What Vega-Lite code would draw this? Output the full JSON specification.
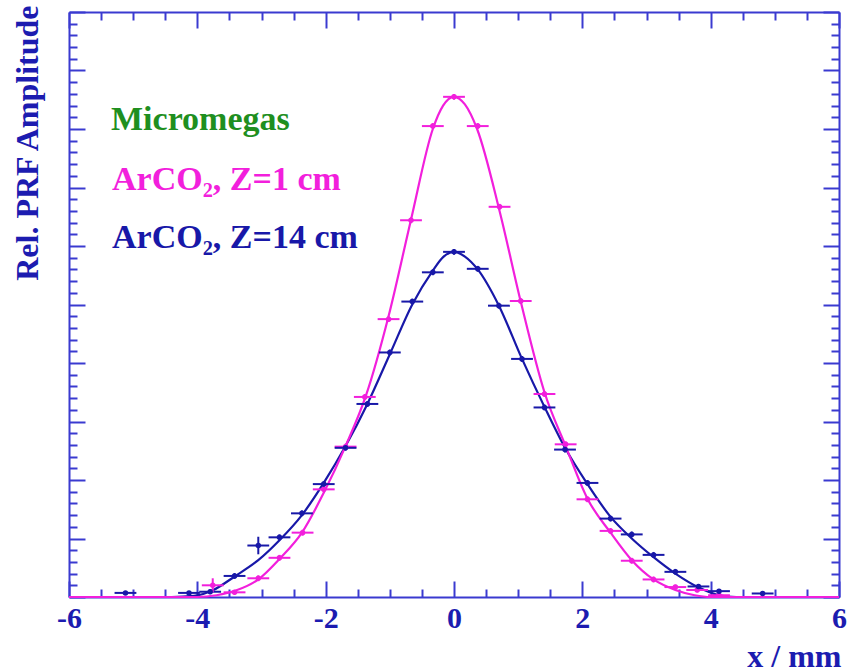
{
  "$schema": "https://vega.github.io/schema/vega-lite/v6.json",
  "autosize": {"type": "none"},
  "padding": {"left": 69, "top": 12, "right": 12, "bottom": 75},
  "width": 770,
  "height": 585,
  "background": "white",
  "config": {
    "view": {"stroke": null},
    "font": "Liberation Serif",
    "axis": {
      "domainColor": "#3a3ad0",
      "domainWidth": 2,
      "tickColor": "#3a3ad0",
      "tickWidth": 2,
      "grid": false,
      "labelFont": "Liberation Serif",
      "labelFontWeight": "bold",
      "labelFontSize": 30,
      "labelColor": "#1c1cb0",
      "titleFont": "Liberation Serif",
      "titleFontWeight": "bold",
      "titleColor": "#1c1cb0"
    }
  },
  "datasets": {
    "curveZ14": [
      {"series": "ArCO₂, Z=14 cm", "x": -6.0, "y": 0.0},
      {"series": "ArCO₂, Z=14 cm", "x": -4.4, "y": 0.0},
      {"series": "ArCO₂, Z=14 cm", "x": -4.05, "y": 0.002},
      {"series": "ArCO₂, Z=14 cm", "x": -3.75, "y": 0.012},
      {"series": "ArCO₂, Z=14 cm", "x": -3.42, "y": 0.035},
      {"series": "ArCO₂, Z=14 cm", "x": -3.05, "y": 0.063},
      {"series": "ArCO₂, Z=14 cm", "x": -2.72, "y": 0.097},
      {"series": "ArCO₂, Z=14 cm", "x": -2.37, "y": 0.14},
      {"series": "ArCO₂, Z=14 cm", "x": -2.03, "y": 0.195},
      {"series": "ArCO₂, Z=14 cm", "x": -1.69, "y": 0.258},
      {"series": "ArCO₂, Z=14 cm", "x": -1.35, "y": 0.33},
      {"series": "ArCO₂, Z=14 cm", "x": -1.0, "y": 0.415},
      {"series": "ArCO₂, Z=14 cm", "x": -0.65, "y": 0.5},
      {"series": "ArCO₂, Z=14 cm", "x": -0.33, "y": 0.558},
      {"series": "ArCO₂, Z=14 cm", "x": -0.17, "y": 0.581},
      {"series": "ArCO₂, Z=14 cm", "x": 0.0, "y": 0.59},
      {"series": "ArCO₂, Z=14 cm", "x": 0.17, "y": 0.582},
      {"series": "ArCO₂, Z=14 cm", "x": 0.37, "y": 0.56},
      {"series": "ArCO₂, Z=14 cm", "x": 0.7, "y": 0.498},
      {"series": "ArCO₂, Z=14 cm", "x": 1.06, "y": 0.407},
      {"series": "ArCO₂, Z=14 cm", "x": 1.41, "y": 0.325},
      {"series": "ArCO₂, Z=14 cm", "x": 1.73, "y": 0.255},
      {"series": "ArCO₂, Z=14 cm", "x": 2.08, "y": 0.193},
      {"series": "ArCO₂, Z=14 cm", "x": 2.44, "y": 0.137},
      {"series": "ArCO₂, Z=14 cm", "x": 2.77, "y": 0.1},
      {"series": "ArCO₂, Z=14 cm", "x": 3.11, "y": 0.068},
      {"series": "ArCO₂, Z=14 cm", "x": 3.45, "y": 0.04},
      {"series": "ArCO₂, Z=14 cm", "x": 3.8, "y": 0.017},
      {"series": "ArCO₂, Z=14 cm", "x": 4.13, "y": 0.003},
      {"series": "ArCO₂, Z=14 cm", "x": 4.4, "y": 0.0},
      {"series": "ArCO₂, Z=14 cm", "x": 6.0, "y": 0.0}
    ],
    "curveZ1": [
      {"series": "ArCO₂, Z=1 cm", "x": -6.0, "y": 0.0},
      {"series": "ArCO₂, Z=1 cm", "x": -4.0, "y": 0.0},
      {"series": "ArCO₂, Z=1 cm", "x": -3.7, "y": 0.003},
      {"series": "ArCO₂, Z=1 cm", "x": -3.4, "y": 0.011},
      {"series": "ArCO₂, Z=1 cm", "x": -3.05, "y": 0.03},
      {"series": "ArCO₂, Z=1 cm", "x": -2.72, "y": 0.065},
      {"series": "ArCO₂, Z=1 cm", "x": -2.37, "y": 0.11},
      {"series": "ArCO₂, Z=1 cm", "x": -2.03, "y": 0.178},
      {"series": "ArCO₂, Z=1 cm", "x": -1.69, "y": 0.258},
      {"series": "ArCO₂, Z=1 cm", "x": -1.37, "y": 0.345},
      {"series": "ArCO₂, Z=1 cm", "x": -1.02, "y": 0.48},
      {"series": "ArCO₂, Z=1 cm", "x": -0.67, "y": 0.645},
      {"series": "ArCO₂, Z=1 cm", "x": -0.33, "y": 0.8},
      {"series": "ArCO₂, Z=1 cm", "x": -0.17, "y": 0.84},
      {"series": "ArCO₂, Z=1 cm", "x": 0.0, "y": 0.855},
      {"series": "ArCO₂, Z=1 cm", "x": 0.17, "y": 0.842},
      {"series": "ArCO₂, Z=1 cm", "x": 0.36, "y": 0.8},
      {"series": "ArCO₂, Z=1 cm", "x": 0.71, "y": 0.66},
      {"series": "ArCO₂, Z=1 cm", "x": 1.04, "y": 0.505},
      {"series": "ArCO₂, Z=1 cm", "x": 1.41, "y": 0.35},
      {"series": "ArCO₂, Z=1 cm", "x": 1.74, "y": 0.258},
      {"series": "ArCO₂, Z=1 cm", "x": 2.08, "y": 0.168},
      {"series": "ArCO₂, Z=1 cm", "x": 2.44, "y": 0.11},
      {"series": "ArCO₂, Z=1 cm", "x": 2.77, "y": 0.063},
      {"series": "ArCO₂, Z=1 cm", "x": 3.11, "y": 0.03},
      {"series": "ArCO₂, Z=1 cm", "x": 3.45, "y": 0.012},
      {"series": "ArCO₂, Z=1 cm", "x": 3.75, "y": 0.003},
      {"series": "ArCO₂, Z=1 cm", "x": 4.0, "y": 0.0},
      {"series": "ArCO₂, Z=1 cm", "x": 6.0, "y": 0.0}
    ],
    "points": [
      {"series": "ArCO₂, Z=1 cm", "x": -3.76, "y": 0.02, "ex": 0.17, "ey": 0.012},
      {"series": "ArCO₂, Z=1 cm", "x": -3.42, "y": 0.008, "ex": 0.17, "ey": 0.004},
      {"series": "ArCO₂, Z=1 cm", "x": -3.05, "y": 0.032, "ex": 0.17, "ey": 0.005},
      {"series": "ArCO₂, Z=1 cm", "x": -2.72, "y": 0.067, "ex": 0.17, "ey": 0.005},
      {"series": "ArCO₂, Z=1 cm", "x": -2.36, "y": 0.11, "ex": 0.17, "ey": 0.005},
      {"series": "ArCO₂, Z=1 cm", "x": -2.03, "y": 0.184, "ex": 0.17, "ey": 0.005},
      {"series": "ArCO₂, Z=1 cm", "x": -1.69, "y": 0.257, "ex": 0.17, "ey": 0.005},
      {"series": "ArCO₂, Z=1 cm", "x": -1.39, "y": 0.342, "ex": 0.17, "ey": 0.005},
      {"series": "ArCO₂, Z=1 cm", "x": -1.02, "y": 0.475, "ex": 0.17, "ey": 0.005},
      {"series": "ArCO₂, Z=1 cm", "x": -0.67, "y": 0.644, "ex": 0.17, "ey": 0.005},
      {"series": "ArCO₂, Z=1 cm", "x": -0.33, "y": 0.805, "ex": 0.17, "ey": 0.005},
      {"series": "ArCO₂, Z=1 cm", "x": 0.0, "y": 0.855, "ex": 0.17, "ey": 0.005},
      {"series": "ArCO₂, Z=1 cm", "x": 0.37, "y": 0.805, "ex": 0.17, "ey": 0.005},
      {"series": "ArCO₂, Z=1 cm", "x": 0.71, "y": 0.667, "ex": 0.17, "ey": 0.005},
      {"series": "ArCO₂, Z=1 cm", "x": 1.04, "y": 0.506, "ex": 0.17, "ey": 0.005},
      {"series": "ArCO₂, Z=1 cm", "x": 1.41, "y": 0.347, "ex": 0.17, "ey": 0.005},
      {"series": "ArCO₂, Z=1 cm", "x": 1.74, "y": 0.261, "ex": 0.17, "ey": 0.005},
      {"series": "ArCO₂, Z=1 cm", "x": 2.08, "y": 0.167, "ex": 0.17, "ey": 0.005},
      {"series": "ArCO₂, Z=1 cm", "x": 2.44, "y": 0.113, "ex": 0.17, "ey": 0.005},
      {"series": "ArCO₂, Z=1 cm", "x": 2.77, "y": 0.062, "ex": 0.17, "ey": 0.005},
      {"series": "ArCO₂, Z=1 cm", "x": 3.11, "y": 0.03, "ex": 0.17, "ey": 0.005},
      {"series": "ArCO₂, Z=1 cm", "x": 3.45, "y": 0.017, "ex": 0.17, "ey": 0.004},
      {"series": "ArCO₂, Z=1 cm", "x": 3.79, "y": 0.012, "ex": 0.17, "ey": 0.004},
      {"series": "ArCO₂, Z=1 cm", "x": 4.13, "y": 0.003, "ex": 0.17, "ey": 0.003},
      {"series": "ArCO₂, Z=14 cm", "x": -5.12, "y": 0.007, "ex": 0.17, "ey": 0.003},
      {"series": "ArCO₂, Z=14 cm", "x": -4.13, "y": 0.007, "ex": 0.17, "ey": 0.003},
      {"series": "ArCO₂, Z=14 cm", "x": -3.8, "y": 0.009, "ex": 0.17, "ey": 0.004},
      {"series": "ArCO₂, Z=14 cm", "x": -3.42, "y": 0.036, "ex": 0.17, "ey": 0.005},
      {"series": "ArCO₂, Z=14 cm", "x": -3.05, "y": 0.088, "ex": 0.17, "ey": 0.015},
      {"series": "ArCO₂, Z=14 cm", "x": -2.72, "y": 0.102, "ex": 0.17, "ey": 0.005},
      {"series": "ArCO₂, Z=14 cm", "x": -2.37, "y": 0.143, "ex": 0.17, "ey": 0.005},
      {"series": "ArCO₂, Z=14 cm", "x": -2.03, "y": 0.193, "ex": 0.17, "ey": 0.005},
      {"series": "ArCO₂, Z=14 cm", "x": -1.69, "y": 0.255, "ex": 0.17, "ey": 0.005},
      {"series": "ArCO₂, Z=14 cm", "x": -1.35, "y": 0.33, "ex": 0.17, "ey": 0.005},
      {"series": "ArCO₂, Z=14 cm", "x": -1.0, "y": 0.418, "ex": 0.17, "ey": 0.005},
      {"series": "ArCO₂, Z=14 cm", "x": -0.65, "y": 0.505, "ex": 0.17, "ey": 0.005},
      {"series": "ArCO₂, Z=14 cm", "x": -0.33, "y": 0.555, "ex": 0.17, "ey": 0.005},
      {"series": "ArCO₂, Z=14 cm", "x": 0.0, "y": 0.59, "ex": 0.17, "ey": 0.005},
      {"series": "ArCO₂, Z=14 cm", "x": 0.37, "y": 0.561, "ex": 0.17, "ey": 0.005},
      {"series": "ArCO₂, Z=14 cm", "x": 0.7, "y": 0.498, "ex": 0.17, "ey": 0.005},
      {"series": "ArCO₂, Z=14 cm", "x": 1.06, "y": 0.407, "ex": 0.17, "ey": 0.005},
      {"series": "ArCO₂, Z=14 cm", "x": 1.41, "y": 0.324, "ex": 0.17, "ey": 0.005},
      {"series": "ArCO₂, Z=14 cm", "x": 1.73, "y": 0.252, "ex": 0.17, "ey": 0.005},
      {"series": "ArCO₂, Z=14 cm", "x": 2.08, "y": 0.195, "ex": 0.17, "ey": 0.005},
      {"series": "ArCO₂, Z=14 cm", "x": 2.44, "y": 0.134, "ex": 0.17, "ey": 0.005},
      {"series": "ArCO₂, Z=14 cm", "x": 2.77, "y": 0.107, "ex": 0.17, "ey": 0.005},
      {"series": "ArCO₂, Z=14 cm", "x": 3.11, "y": 0.072, "ex": 0.17, "ey": 0.005},
      {"series": "ArCO₂, Z=14 cm", "x": 3.45, "y": 0.043, "ex": 0.17, "ey": 0.005},
      {"series": "ArCO₂, Z=14 cm", "x": 3.81, "y": 0.018, "ex": 0.17, "ey": 0.004},
      {"series": "ArCO₂, Z=14 cm", "x": 4.13, "y": 0.01, "ex": 0.17, "ey": 0.003},
      {"series": "ArCO₂, Z=14 cm", "x": 4.81, "y": 0.006, "ex": 0.17, "ey": 0.003}
    ]
  },
  "resolve": {"axis": {"x": "independent", "y": "independent"}},
  "layer": [
    {
      "data": {"name": "curveZ14"},
      "mark": {"type": "line", "interpolate": "monotone", "strokeWidth": 2.2, "clip": false},
      "encoding": {
        "x": {
          "field": "x", "type": "quantitative",
          "scale": {"domain": [-6, 6], "nice": false, "zero": false},
          "axis": {
            "orient": "bottom",
            "values": [-6, -5.5, -5, -4.5, -4, -3.5, -3, -2.5, -2, -1.5, -1, -0.5, 0, 0.5, 1, 1.5, 2, 2.5, 3, 3.5, 4, 4.5, 5, 5.5, 6],
            "tickSize": {"condition": {"test": "datum.value % 2 === 0", "value": -16}, "value": -8},
            "labelExpr": "datum.value % 2 === 0 ? '' + datum.value : ''",
            "labelPadding": 22,
            "labelFlush": false,
            "labelOverlap": false,
            "title": "x / mm",
            "titleFontSize": 32,
            "titleAnchor": "end",
            "titleAlign": "right",
            "titleBaseline": "alphabetic",
            "titleX": 772,
            "titleY": 69
          }
        },
        "y": {
          "field": "y", "type": "quantitative",
          "scale": {"domain": [0, 1], "nice": false, "zero": true},
          "axis": {
            "orient": "left",
            "values": [0, 0.02, 0.04, 0.06, 0.08, 0.1, 0.12, 0.14, 0.16, 0.18, 0.2, 0.22, 0.24, 0.26, 0.28, 0.3, 0.32, 0.34, 0.36, 0.38, 0.4, 0.42, 0.44, 0.46, 0.48, 0.5, 0.52, 0.54, 0.56, 0.58, 0.6, 0.62, 0.64, 0.66, 0.68, 0.7, 0.72, 0.74, 0.76, 0.78, 0.8, 0.82, 0.84, 0.86, 0.88, 0.9, 0.92, 0.94, 0.96, 0.98, 1],
            "tickSize": {"condition": {"test": "round(datum.value * 50) % 5 === 0", "value": -16}, "value": -8},
            "labels": false,
            "title": "Rel. PRF Amplitude",
            "titleFontSize": 32,
            "titleAngle": -90,
            "titleAlign": "right",
            "titleBaseline": "middle",
            "titleX": -42,
            "titleY": -7
          }
        },
        "color": {
          "field": "series", "type": "nominal",
          "scale": {"domain": ["ArCO₂, Z=1 cm", "ArCO₂, Z=14 cm"], "range": ["#f21fdc", "#1818a8"]},
          "legend": {
            "orient": "none",
            "legendX": 42,
            "legendY": 91,
            "title": "Micromegas",
            "titleColor": "#1f8f1f",
            "titleFont": "Liberation Serif",
            "titleFontWeight": "bold",
            "titleFontSize": 34,
            "titlePadding": 26,
            "labelFont": "Liberation Serif",
            "labelFontWeight": "bold",
            "labelFontSize": 34,
            "labelOffset": -33,
            "labelLimit": 400,
            "rowPadding": 24,
            "padding": 0,
            "symbolSize": 0,
            "symbolOpacity": 0,
            "symbolStrokeWidth": 0,
            "encode": {
              "labels": {"update": {"fill": {"signal": "indexof(datum.value, '14') >= 0 ? '#1818a8' : '#f21fdc'"}}}
            }
          }
        }
      }
    },
    {
      "data": {"name": "curveZ1"},
      "mark": {"type": "line", "interpolate": "monotone", "strokeWidth": 2.2, "clip": false},
      "encoding": {
        "x": {"field": "x", "type": "quantitative", "scale": {"domain": [-6, 6], "nice": false, "zero": false}, "axis": null},
        "y": {"field": "y", "type": "quantitative", "scale": {"domain": [0, 1], "nice": false, "zero": true}, "axis": null},
        "color": {"field": "series", "type": "nominal"}
      }
    },
    {
      "data": {"name": "points"},
      "mark": {"type": "errorbar", "thickness": 2},
      "encoding": {
        "x": {"field": "x", "type": "quantitative", "scale": {"domain": [-6, 6], "nice": false, "zero": false}, "axis": null},
        "xError": {"field": "ex"},
        "y": {"field": "y", "type": "quantitative", "scale": {"domain": [0, 1], "nice": false, "zero": true}, "axis": null},
        "color": {"field": "series", "type": "nominal"}
      }
    },
    {
      "data": {"name": "points"},
      "mark": {"type": "errorbar", "thickness": 2},
      "encoding": {
        "x": {"field": "x", "type": "quantitative", "scale": {"domain": [-6, 6], "nice": false, "zero": false}, "axis": null},
        "y": {"field": "y", "type": "quantitative", "scale": {"domain": [0, 1], "nice": false, "zero": true}, "axis": null},
        "yError": {"field": "ey"},
        "color": {"field": "series", "type": "nominal"}
      }
    },
    {
      "data": {"name": "points"},
      "mark": {"type": "circle", "size": 30, "opacity": 1},
      "encoding": {
        "x": {
          "field": "x", "type": "quantitative",
          "scale": {"domain": [-6, 6], "nice": false, "zero": false},
          "axis": {
            "orient": "top",
            "values": [-6, -5.5, -5, -4.5, -4, -3.5, -3, -2.5, -2, -1.5, -1, -0.5, 0, 0.5, 1, 1.5, 2, 2.5, 3, 3.5, 4, 4.5, 5, 5.5, 6],
            "tickSize": {"condition": {"test": "datum.value % 2 === 0", "value": -16}, "value": -8},
            "labels": false,
            "title": null
          }
        },
        "y": {
          "field": "y", "type": "quantitative",
          "scale": {"domain": [0, 1], "nice": false, "zero": true},
          "axis": {
            "orient": "right",
            "values": [0, 0.02, 0.04, 0.06, 0.08, 0.1, 0.12, 0.14, 0.16, 0.18, 0.2, 0.22, 0.24, 0.26, 0.28, 0.3, 0.32, 0.34, 0.36, 0.38, 0.4, 0.42, 0.44, 0.46, 0.48, 0.5, 0.52, 0.54, 0.56, 0.58, 0.6, 0.62, 0.64, 0.66, 0.68, 0.7, 0.72, 0.74, 0.76, 0.78, 0.8, 0.82, 0.84, 0.86, 0.88, 0.9, 0.92, 0.94, 0.96, 0.98, 1],
            "tickSize": {"condition": {"test": "round(datum.value * 50) % 5 === 0", "value": -16}, "value": -8},
            "labels": false,
            "title": null
          }
        },
        "color": {"field": "series", "type": "nominal"}
      }
    }
  ]
}
